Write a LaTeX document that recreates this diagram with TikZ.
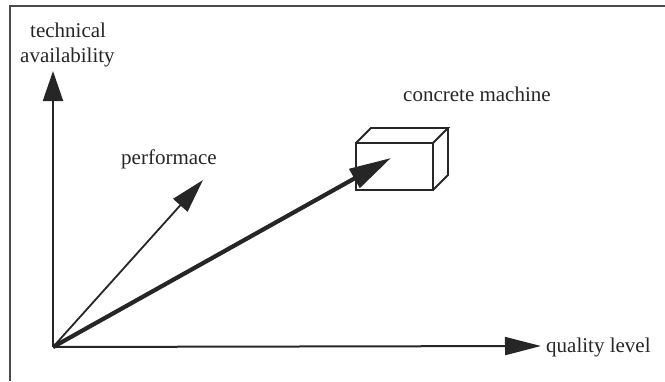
\documentclass[tikz,border=0pt]{standalone}
\usepackage{fontspec}
\setmainfont{Liberation Serif}
\usetikzlibrary{arrows.meta}
\begin{document}
\begin{tikzpicture}[x=1pt,y=-1pt,
  lbl/.style={font=\fontsize{21}{23}\selectfont, anchor=base west, inner sep=0pt, text=black!85},
  axis/.style={line width=2pt, draw=black!85},
  frame/.style={line width=1.8pt, draw=black!70},
  boxline/.style={line width=1.8pt, draw=black!85, line join=miter}]
\useasboundingbox (0,0) rectangle (665,381);
% frame (open to right and bottom)
\draw[frame] (10,381) -- (10,6) -- (665,6);
% coordinates
\coordinate (O) at (53,347);
\coordinate (Ytip) at (53,71);
\coordinate (Xtip) at (541,346);
\coordinate (Ptip) at (203,180);
\coordinate (Mtip) at (391,158);
% axes
\draw[axis, -{Triangle[length=30pt,width=20pt]}] (O) -- (Ytip);
\draw[axis, -{Triangle[length=36pt,width=18pt]}] (O) -- (Xtip);
% performance vector
\draw[axis, line width=1.8pt, -{Triangle[length=34pt,width=19pt]}] (O) -- (Ptip);
% machine (box)
\draw[boxline, fill=white] (356,143) rectangle (433,190);
\draw[boxline] (356,143) -- (371,128) -- (448,128) -- (433,143);
\draw[boxline] (448,128) -- (448,175) -- (433,190);
% concrete machine vector
\draw[axis, line width=4.2pt, -{Triangle[length=42pt,width=21pt]}] (O) -- (Mtip);
% labels
\node[lbl] (ta1) at (30,37) {technical};
\node[lbl] (ta2) at (20,62) {availability};
\node[lbl] (perf) at (121,164) {performace};
\node[lbl] (cm) at (403,101) {concrete machine};
\node[lbl] (ql) at (546,352) {quality level};
\end{tikzpicture}
\end{document}
